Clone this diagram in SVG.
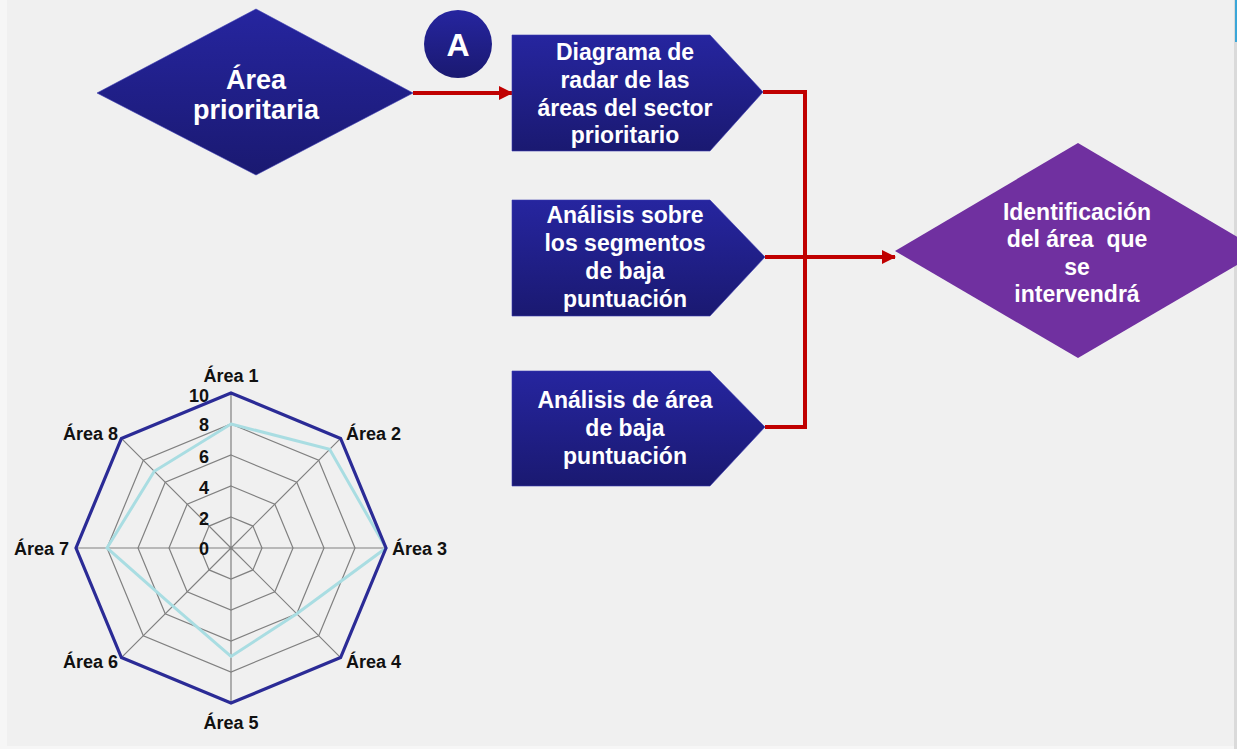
<svg xmlns="http://www.w3.org/2000/svg" width="1237" height="749" viewBox="0 0 1237 749">
<defs>
<linearGradient id="navy" x1="0" y1="0" x2="0" y2="1">
<stop offset="0" stop-color="#26259f"/>
<stop offset="1" stop-color="#1a1971"/>
</linearGradient>
<marker id="arr" markerUnits="userSpaceOnUse" markerWidth="14" markerHeight="14" viewBox="0 0 14 14" refX="13" refY="7" orient="auto">
<path d="M0,0 L14,7 L0,14 Z" fill="#c00000"/>
</marker>
<style>
.nav{fill:url(#navy);stroke:#3a3ab0;stroke-width:0.6}
.pur{fill:#7030a0}
.wt{font-family:"Liberation Sans",Arial,sans-serif;font-weight:bold;fill:#ffffff;text-anchor:middle}
.con{fill:none;stroke:#c00000;stroke-width:4}
.grid{fill:none;stroke:#808080;stroke-width:1.2}
.lab{font-family:"Liberation Sans",Arial,sans-serif;font-weight:bold;font-size:18px;fill:#111111}
</style>
</defs>
<rect x="0" y="0" width="1237" height="749" fill="#f6f6f6"/>
<rect x="7" y="0" width="1227" height="746" fill="#f0f0f0"/>
<rect x="1234" y="0" width="3" height="749" fill="#dadada"/>
<rect x="1235" y="0" width="2" height="42" fill="#3aa6d8"/>

<g id="connectors">
<line class="con" x1="413" y1="93" x2="512" y2="93" marker-end="url(#arr)"/>
<path class="con" d="M763,92 H805 V427 H765"/>
<line class="con" x1="765" y1="257" x2="895" y2="257" marker-end="url(#arr)"/>
</g>

<g id="area-prioritaria">
<polygon class="nav" points="97,93 256,9 413,93 256,175"/>
<text class="wt" font-size="27" x="256" y="89">Área</text>
<text class="wt" font-size="27" x="256" y="119">prioritaria</text>
</g>

<g id="marker-a">
<circle cx="458" cy="44" r="34" fill="url(#navy)"/>
<text class="wt" font-size="32" x="458" y="56">A</text>
</g>

<g id="box-radar">
<polygon class="nav" points="512,35 710,35 763,92 710,151 512,151"/>
<text class="wt" font-size="23" x="625" y="60">Diagrama de</text>
<text class="wt" font-size="23" x="625" y="88">radar de las</text>
<text class="wt" font-size="23" x="625" y="116">áreas del sector</text>
<text class="wt" font-size="23" x="625" y="143">prioritario</text>
</g>

<g id="box-segmentos">
<polygon class="nav" points="512,200 710,200 765,257 710,316 512,316"/>
<text class="wt" font-size="23" x="625" y="223">Análisis sobre</text>
<text class="wt" font-size="23" x="625" y="251">los segmentos</text>
<text class="wt" font-size="23" x="625" y="279">de baja</text>
<text class="wt" font-size="23" x="625" y="307">puntuación</text>
</g>

<g id="box-area-baja">
<polygon class="nav" points="512,371 710,371 765,427 710,486 512,486"/>
<text class="wt" font-size="23" x="625" y="408">Análisis de área</text>
<text class="wt" font-size="23" x="625" y="436">de baja</text>
<text class="wt" font-size="23" x="625" y="464">puntuación</text>
</g>

<g id="identificacion">
<polygon class="pur" points="895,251 1078,143 1261,251 1078,358"/>
<text class="wt" font-size="23" x="1077" y="220">Identificación</text>
<text class="wt" font-size="23" x="1077" y="247" xml:space="preserve">del área  que</text>
<text class="wt" font-size="23" x="1077" y="275">se</text>
<text class="wt" font-size="23" x="1077" y="302">intervendrá</text>
</g>

<g id="radar-chart">
<polygon class="grid" points="231,517 252.92,526.08 262,548 252.92,569.92 231,579 209.08,569.92 200,548 209.08,526.08"/>
<polygon class="grid" points="231,486 274.84,504.16 293,548 274.84,591.84 231,610 187.16,591.84 169,548 187.16,504.16"/>
<polygon class="grid" points="231,455 296.76,482.24 324,548 296.76,613.76 231,641 165.24,613.76 138,548 165.24,482.24"/>
<polygon class="grid" points="231,424 318.68,460.32 355,548 318.68,635.68 231,672 143.32,635.68 107,548 143.32,460.32"/>
<path class="grid" d="M231,548 L231,393 M231,548 L340.6,438.4 M231,548 L386,548 M231,548 L340.6,657.6 M231,548 L231,703 M231,548 L121.4,657.6 M231,548 L76,548 M231,548 L121.4,438.4"/>
<polygon points="231,424 329.64,449.36 386,548 296.76,613.76 231,656.5 172.91,606.09 107,548 154.28,471.28" fill="none" stroke="#a9dde2" stroke-width="3"/>
<polygon points="231,393 340.6,438.4 386,548 340.6,657.6 231,703 121.4,657.6 76,548 121.4,438.4" fill="none" stroke="#2b2b96" stroke-width="3.2"/>
<g class="lab" text-anchor="end">
<text x="209" y="402">10</text>
<text x="209" y="431">8</text>
<text x="209" y="463">6</text>
<text x="209" y="494">4</text>
<text x="209" y="525">2</text>
<text x="209" y="555">0</text>
</g>
<text class="lab" x="231" y="382" text-anchor="middle">Área 1</text>
<text class="lab" x="346" y="440">Área 2</text>
<text class="lab" x="392" y="555">Área 3</text>
<text class="lab" x="346" y="668">Área 4</text>
<text class="lab" x="231" y="729" text-anchor="middle">Área 5</text>
<text class="lab" x="118" y="668" text-anchor="end">Área 6</text>
<text class="lab" x="69" y="555" text-anchor="end">Área 7</text>
<text class="lab" x="118" y="440" text-anchor="end">Área 8</text>
</g>
</svg>
